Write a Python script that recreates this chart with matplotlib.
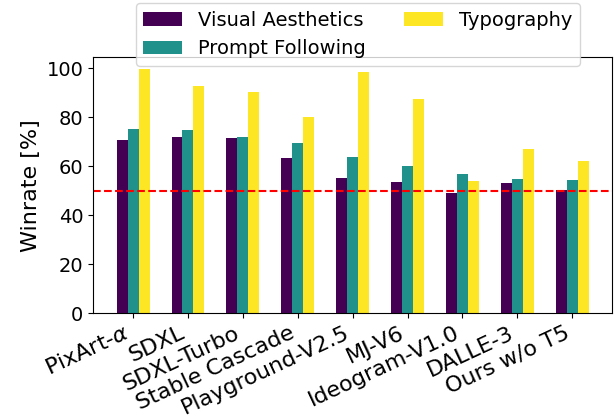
import matplotlib.pyplot as plt
import numpy as np

# Data
models = ["PixArt-$\\alpha$", "SDXL", "SDXL-Turbo", "Stable Cascade", "Playground-V2.5",
          "MJ-V6", "Ideogram-V1.0", "DALLE-3", "Ours w/o T5"]
visual_aesthetics = [70.6, 71.7, 71.3, 63.3, 55.0, 53.7, 49.1, 53.1, 50.1]
prompt_following = [75.2, 74.8, 71.7, 69.4, 63.7, 60.2, 56.9, 54.6, 54.2]
typography = [99.5, 92.8, 90.4, 80.1, 98.4, 87.5, 53.8, 66.9, 62.2]

colors = ['#440154', '#21918c', '#fde725']

fig, ax = plt.subplots(figsize=(6.16, 4.17), dpi=100)
x = np.arange(len(models))
w = 0.2
ax.bar(x - w, visual_aesthetics, w, color=colors[0], label='Visual Aesthetics')
ax.bar(x, prompt_following, w, color=colors[1], label='Prompt Following')
ax.bar(x + w, typography, w, color=colors[2], label='Typography')

ax.axhline(50, color='red', linestyle='--', linewidth=1.5)

ax.set_xticks(x)
ax.set_xticklabels(models, rotation=25, ha='right', fontsize=16)
ax.tick_params(axis='y', labelsize=14)
ax.set_ylabel('Winrate [%]', fontsize=16)
ax.set_yticks([0, 20, 40, 60, 80, 100])

ax.legend(loc='upper center', bbox_to_anchor=(0.51, 1.25), ncol=2, fontsize=14)

fig.subplots_adjust(left=0.151, right=0.994, top=0.863, bottom=0.249)
fig.savefig('out.png')
